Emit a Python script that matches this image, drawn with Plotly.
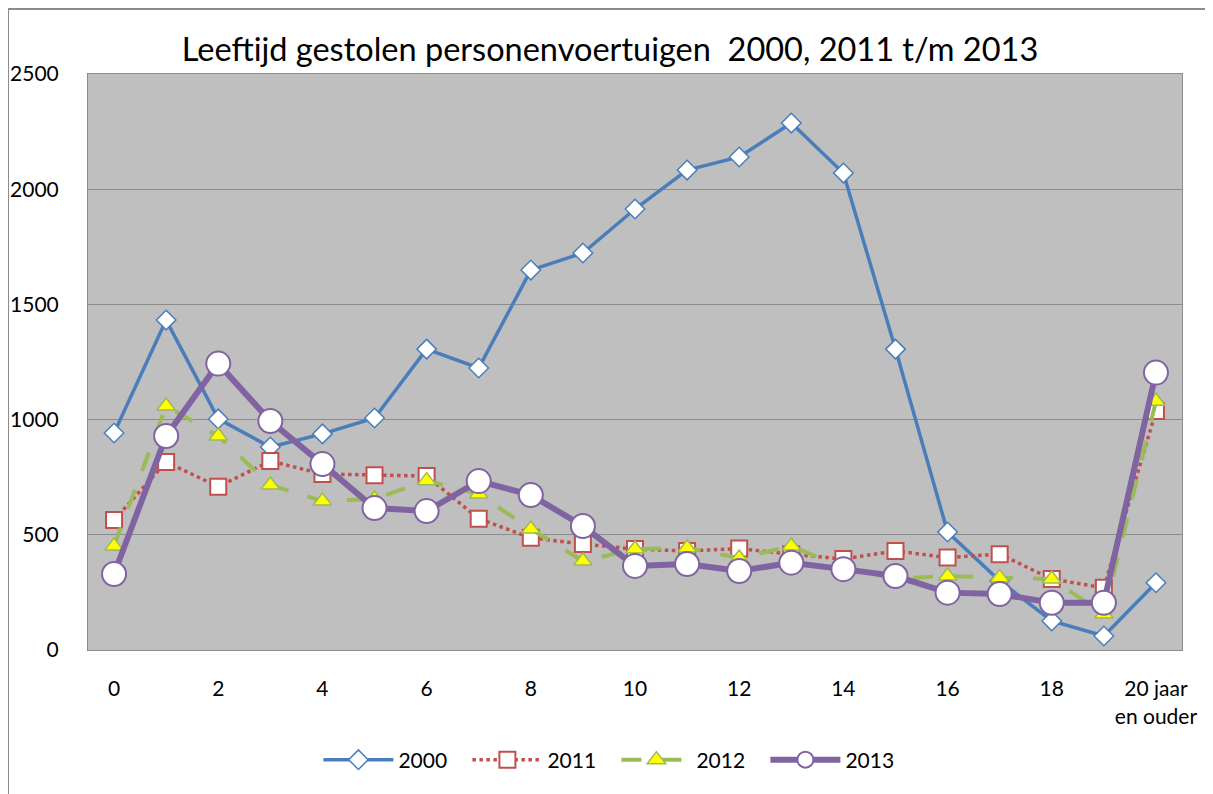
import plotly.graph_objects as go

categories = [str(i) for i in range(20)] + ["20 jaar en ouder"]
tick_labels = ["0", "2", "4", "6", "8", "10", "12", "14", "16", "18", "20 jaar<br>en ouder"]
tick_cats = ["0", "2", "4", "6", "8", "10", "12", "14", "16", "18", "20 jaar en ouder"]

y2000 = [942, 1432, 1003, 881, 938, 1007, 1306, 1224, 1649, 1723, 1914, 2083, 2140, 2287, 2070, 1306, 512, 300, 126, 61, 292]
y2011 = [564, 816, 709, 820, 764, 759, 755, 570, 487, 460, 438, 430, 440, 416, 395, 430, 401, 416, 308, 270, 1037]
y2012 = [451, 1059, 929, 716, 647, 655, 735, 677, 525, 386, 438, 443, 399, 451, 356, 310, 321, 314, 308, 156, 1080]
y2013 = [330, 929, 1243, 994, 807, 616, 603, 733, 673, 538, 365, 373, 343, 379, 351, 321, 249, 243, 205, 205, 1204]

fig = go.Figure()
fig.add_trace(go.Scatter(
    x=categories, y=y2000, name="2000", mode="lines+markers",
    line=dict(color="#4A7EBB", width=3.5),
    marker=dict(symbol="diamond", size=15, color="white", line=dict(color="#4A7EBB", width=1.5)),
))
fig.add_trace(go.Scatter(
    x=categories, y=y2011, name="2011", mode="lines+markers",
    line=dict(color="#C0504D", width=3.5, dash="dot"),
    marker=dict(symbol="square", size=16, color="white", line=dict(color="#C0504D", width=2)),
))
fig.add_trace(go.Scatter(
    x=categories, y=y2012, name="2012", mode="lines+markers",
    line=dict(color="#9BBB59", width=4, dash="longdash"),
    marker=dict(symbol="triangle-up", size=16, color="#FFFF00", line=dict(color="#9BBB59", width=1.5)),
))
fig.add_trace(go.Scatter(
    x=categories, y=y2013, name="2013", mode="lines+markers",
    line=dict(color="#8064A2", width=6),
    marker=dict(symbol="circle", size=24, color="white", line=dict(color="#8064A2", width=2)),
))

fig.update_layout(
    width=1205, height=786,
    margin=dict(l=80, r=31, t=66, b=144, autoexpand=False),
    paper_bgcolor="white",
    plot_bgcolor="#BFBFBF",
    font=dict(family="Lato, Open Sans, sans-serif", color="#000000"),
    title=dict(text="Leeftijd gestolen personenvoertuigen  2000, 2011 t/m 2013",
               x=0.4996, xanchor="center", y=0.9466, yanchor="middle",
               font=dict(size=32.5, color="#000000")),
    showlegend=True,
    legend=dict(orientation="h", x=0.483, xanchor="center", y=-0.191, yanchor="middle",
                font=dict(size=21), itemwidth=70, entrywidth=64, bgcolor="rgba(0,0,0,0)"),
    xaxis=dict(type="category", categoryorder="array", categoryarray=categories,
               range=[-0.5, 20.5], tickmode="array", tickvals=tick_cats, ticktext=tick_labels,
               showgrid=False, ticks="", tickfont=dict(size=21), showline=True,
               linecolor="#8C8C8C", linewidth=1, mirror=True, zeroline=False,
               ticklabelstandoff=20, automargin=False),
    yaxis=dict(range=[0, 2500], tickvals=[0, 500, 1000, 1500, 2000, 2500],
               showgrid=True, gridcolor="#8C8C8C", gridwidth=1, ticks="",
               tickfont=dict(size=21), showline=True, linecolor="#8C8C8C", linewidth=1,
               mirror=True, zeroline=False, ticklabelstandoff=24, automargin=False),
    shapes=[dict(type="rect", xref="paper", yref="paper",
                 x0=-0.0731, x1=1.2, y0=-0.4, y1=1.1128,
                 line=dict(color="#8C8C8C", width=2), fillcolor="rgba(0,0,0,0)", layer="below")],
)

fig.write_html("out.html")
